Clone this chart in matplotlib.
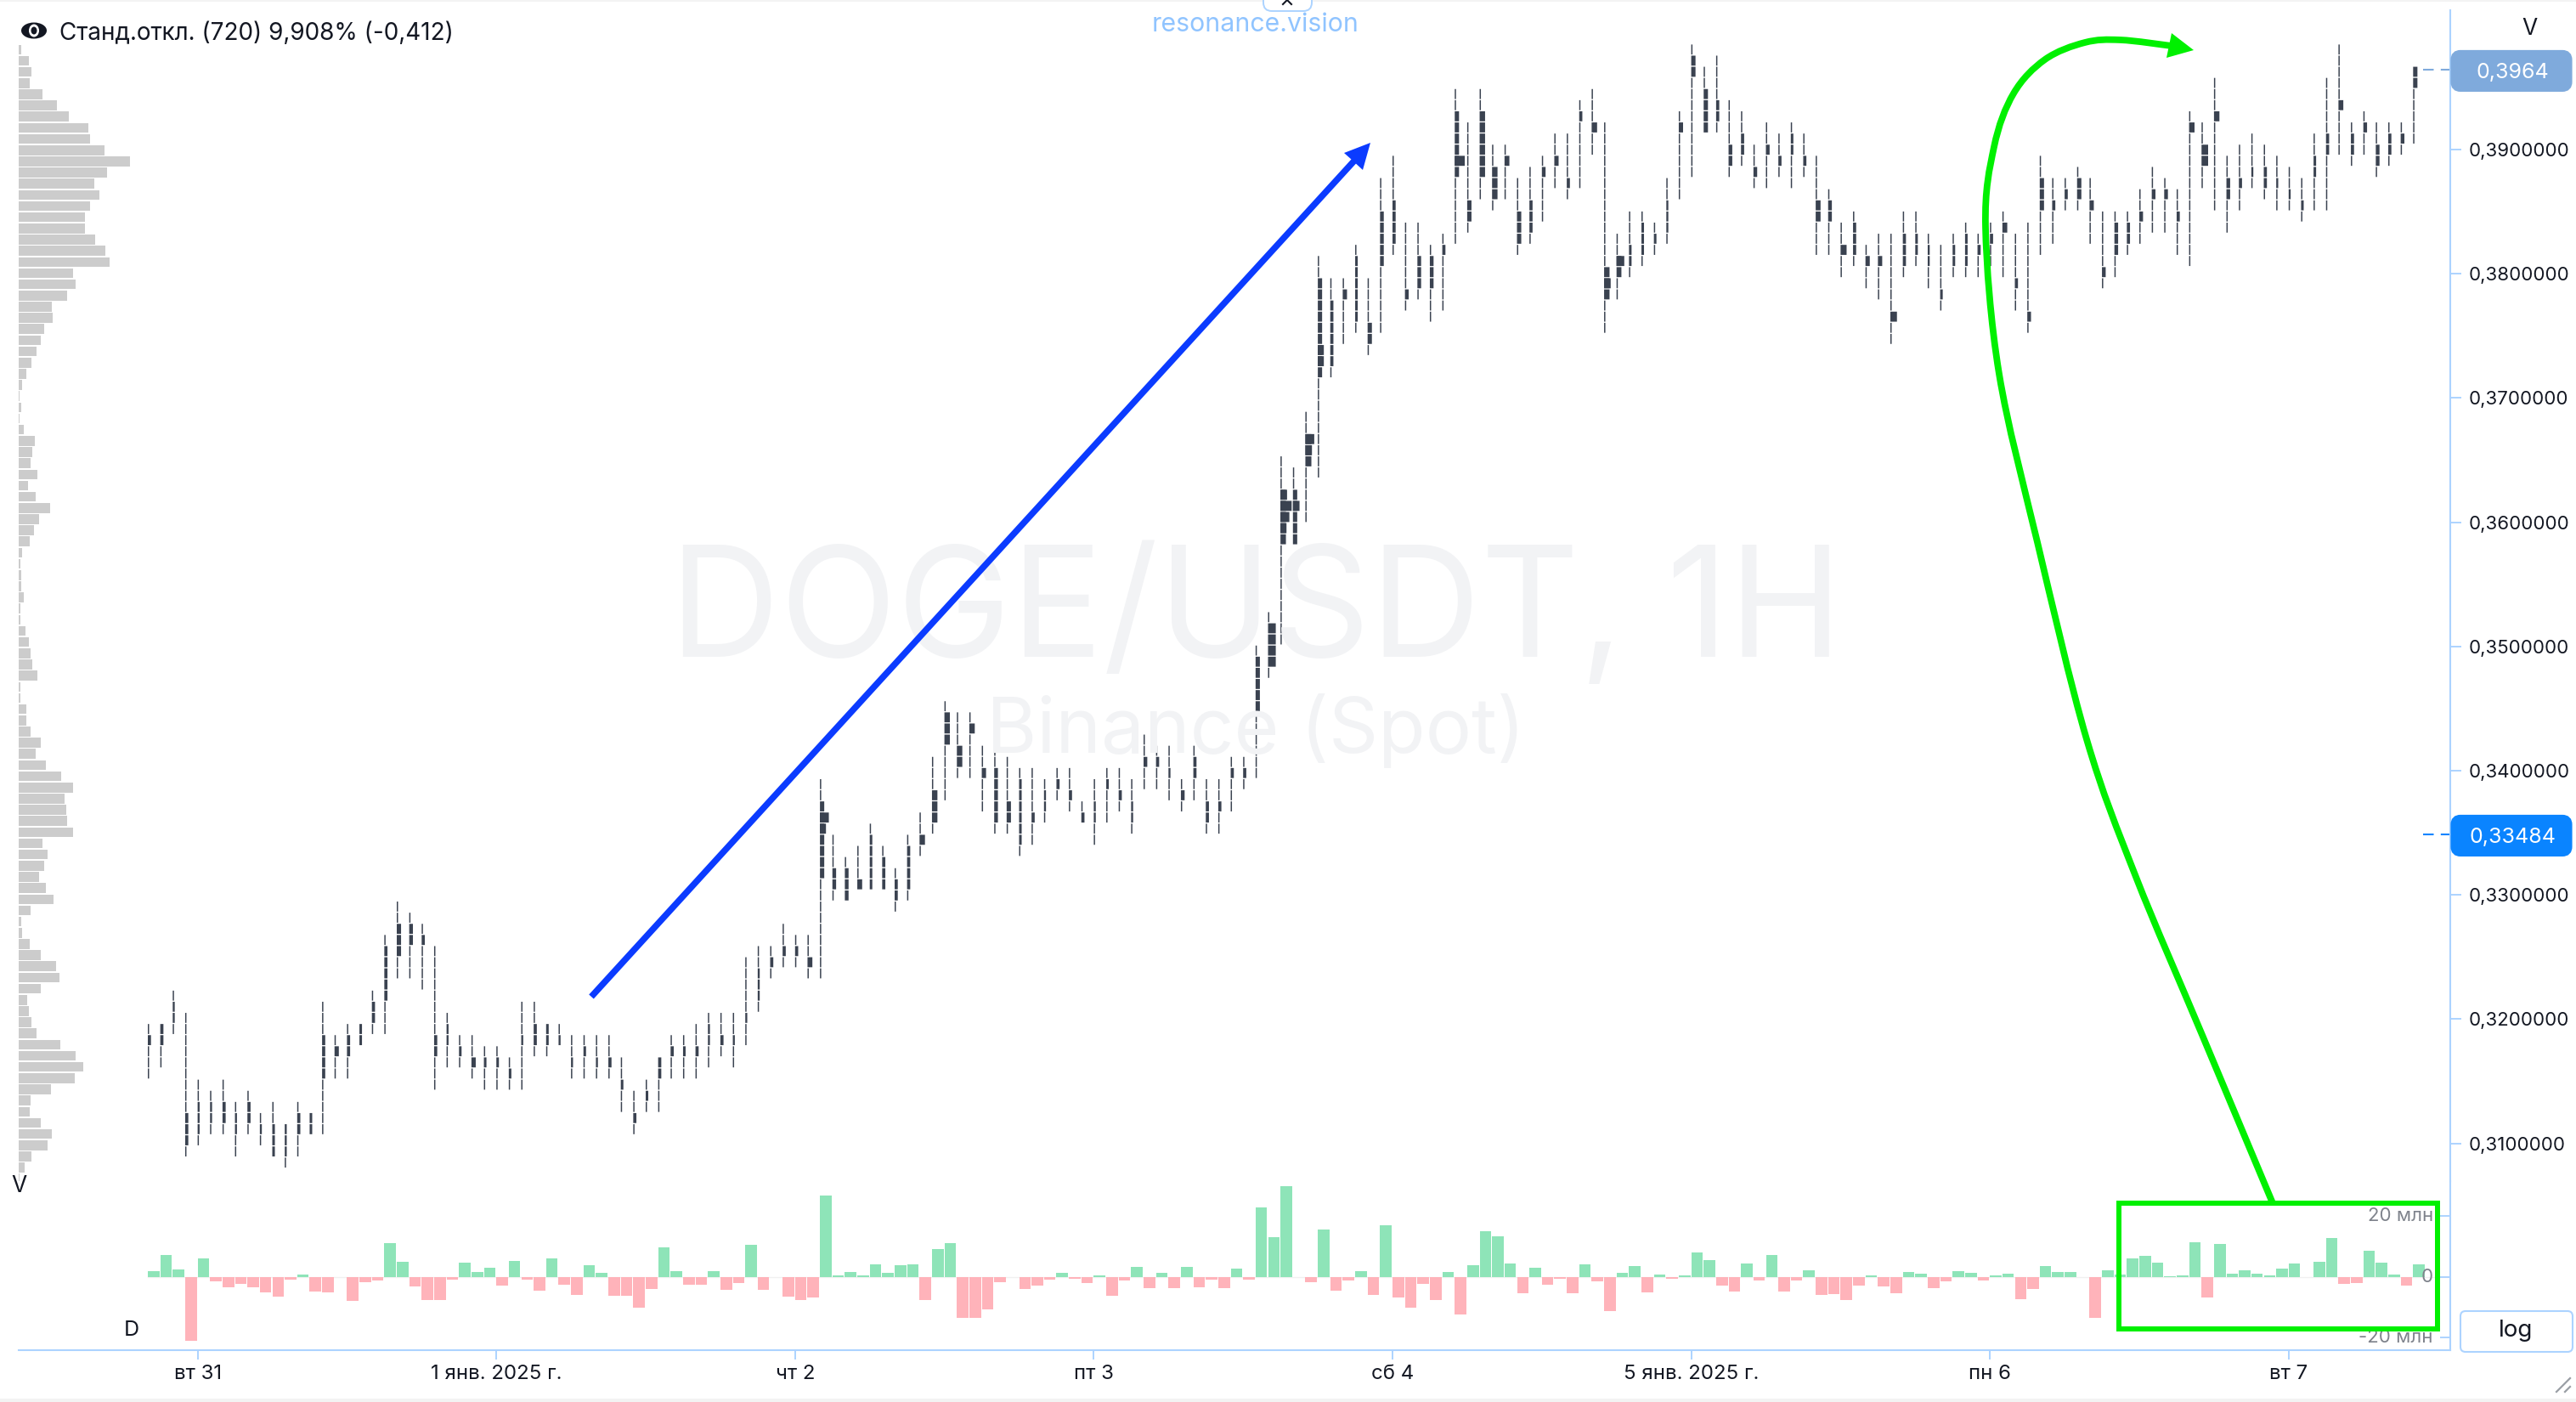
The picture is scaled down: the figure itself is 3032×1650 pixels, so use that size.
import matplotlib
matplotlib.use('Agg')
import matplotlib.pyplot as plt
from matplotlib.patches import FancyBboxPatch, Rectangle, Polygon, Ellipse, PathPatch
from matplotlib.path import Path
from matplotlib.lines import Line2D
from matplotlib.transforms import Affine2D

plt.rcParams['font.family'] = ['Inter', 'DejaVu Sans']

# cluster grid of the chart: bin 0 starts at top_price
top_price = 0.3985
bin_size = 0.000896
profile_bin_size = 0.0009

high_bin = [88,88,85,87,93,94,93,95,94,96,95,97,95,96,86,89,88,88,85,80,
            77,78,79,81,87,89,89,90,90,91,86,86,88,88,89,89,89,89,91,94,
            93,91,89,89,88,87,87,87,82,81,81,79,80,80,66,71,73,72,70,72,
            74,71,69,64,59,60,60,63,62,64,65,65,66,65,65,68,66,65,65,66,
            62,63,63,66,63,66,66,64,64,54,51,37,38,33,19,21,21,18,21,12,
            10,16,16,18,17,4,7,4,9,9,12,11,10,8,8,5,4,7,17,15,
            15,16,12,6,0,2,1,5,6,9,7,8,7,8,10,13,16,15,18,17,
            17,15,15,17,18,17,16,17,16,15,17,16,10,12,12,11,12,15,15,15,
            13,11,12,13,6,7,3,10,9,8,9,10,11,12,8,3,0,7,6,7,7,7,2]
low_bin = [93,92,89,100,99,98,98,100,98,99,100,101,100,98,98,93,93,90,89,89,
           84,84,85,94,92,92,93,94,94,94,94,91,91,90,93,93,93,93,96,98,
           96,96,93,93,93,92,91,92,90,87,84,83,83,84,84,77,77,76,76,76,
           78,77,73,71,68,66,66,69,71,71,73,72,70,68,69,70,72,70,69,71,
           67,67,68,69,68,71,71,69,67,66,57,54,45,43,39,30,27,26,28,26,
           19,24,23,25,24,18,17,14,15,14,19,18,16,13,14,13,10,26,23,21,
           20,19,18,14,12,8,8,12,11,13,13,12,13,12,19,19,21,20,22,23,
           27,21,20,22,24,21,21,21,20,21,24,26,19,18,15,15,18,22,21,19,
           18,17,17,19,20,13,15,17,15,13,14,15,15,16,15,15,10,11,10,12,11,10,9]
body_top = [89,88,86,96,95,95,95,96,95,97,97,97,96,96,89,90,89,88,86,81,
            79,79,80,89,88,90,91,91,91,92,89,88,88,89,91,90,91,91,93,96,
            94,91,90,90,90,88,89,89,87,83,82,81,81,82,68,74,74,75,71,73,
            75,72,71,67,60,63,61,65,65,68,66,69,67,66,67,69,68,66,67,68,
            64,64,65,67,64,68,68,65,65,55,52,40,40,35,21,23,22,19,25,15,
            14,22,19,19,18,6,14,6,11,10,15,14,11,10,12,6,7,20,19,18,
            16,17,14,7,1,4,5,9,8,11,9,10,8,10,14,14,18,16,19,19,
            24,17,17,18,22,18,17,18,17,16,21,24,12,14,13,12,14,20,16,16,
            15,13,13,15,7,9,6,12,12,11,11,12,13,14,10,8,5,8,7,9,8,8,2]
body_bottom = [90,90,88,99,98,97,97,98,97,98,100,100,98,98,93,91,91,90,88,86,
               82,81,81,91,90,91,92,92,92,93,90,90,90,90,92,91,92,92,94,97,
               95,93,91,91,91,90,90,90,88,86,83,82,82,83,75,76,77,76,76,76,
               77,76,72,70,63,65,62,66,70,70,72,70,69,67,68,70,70,67,68,70,
               65,65,66,68,66,70,69,66,66,60,56,45,45,38,30,29,23,25,27,20,
               18,23,22,22,19,12,16,12,14,11,18,17,12,11,13,7,8,23,21,20,
               19,18,17,8,3,8,7,11,10,12,10,11,10,11,16,16,19,19,20,20,
               25,20,19,20,23,20,20,19,18,17,22,25,15,15,14,14,15,21,19,18,
               16,14,14,16,8,11,7,14,13,12,13,13,14,15,12,10,6,10,8,11,10,9,4]
body_vol = [2,2,1,2,1,1,2,1,2,1,1.5,1,2,1.5,2,3,2,1.5,2,2,
            3,2.5,2,2,1,1.5,3,1.5,1.5,1.5,1,2,1.5,1,1,1.5,1,2,1.5,2,
            1.5,2,2,1.5,2,1,2,1,1,1,2,2,2,3.5,3,2.5,2.5,3.5,1.5,2,
            2,2,4,4,4,4,4,3,2.5,3,1.5,2,1,2,2,2,1,1.5,2,1,
            2.5,2,1,2.5,2,2,2,2,2,3,6,4,3,4.5,3,2,3,1.5,3,2.5,
            2,2.5,2.5,2.5,2,3,3,4,4,3.5,3,2,2.5,3,2,2,4,4,3.5,1.5,
            1.5,1.5,1,3,3,3,2,2.5,2,2.5,2.5,2,1.5,2,3.5,2.5,4.5,2,3,3,
            5,2,1.5,1,1.5,1.5,1.5,2,2,3.5,2,2.5,3,2,2,3,3,2.5,2.5,2,
            2.5,2.5,2.5,2,4,5,4,2.5,2,1,2,1,1,1.5,1.5,2,3.5,2,2.5,2.5,2,2.5,3]

# single bins that are much wider than the rest of their candle
wide_candle = [54,54,91,91,91,91,92,93,93,94,94,105,117,118]
wide_bin = [69,70,40,41,42,43,41,35,36,27,28,10,21,19]
wide_vol = [7,4.5,5,9,7,4.5,5,7,5,4.5,4.5,8,5,6]

# volume delta, millions, one bar per candle
delta = [1.9,7.1,2.5,-21.2,6.0,-1.6,-3.5,-2.4,-3.5,-5.2,-6.4,-0.9,0.8,-4.7,-5.2,0,-7.8,-1.7,-1.1,11.2,
         4.9,-3.2,-7.7,-7.7,-0.8,4.8,1.6,2.9,-2.8,5.1,-1.0,-4.5,6.1,-2.6,-6.0,3.9,1.4,-6.1,-6.1,-10.1,
         -4.0,9.7,1.9,-2.6,-2.6,1.9,-4.2,-2.0,10.5,-4.2,0.05,-6.5,-7.5,-6.9,26.7,0.4,1.6,0.5,4.2,1.4,
         3.9,4.2,-7.5,9.2,11.2,-13.4,-13.4,-10.7,-1.9,0,-4.0,-2.8,-0.8,1.2,-0.6,-2.0,0.5,-6.2,-1.2,3.3,
         -3.6,1.2,-3.6,3.3,-3.4,-0.8,-3.6,2.6,-0.8,22.8,13.2,29.8,0.05,-1.9,15.7,-4.5,-1.1,1.9,-5.9,16.9,
         -6.7,-10.1,-2.3,-7.6,1.5,-12.3,3.7,14.9,13.4,4.4,-5.3,2.9,-2.7,-0.6,-5.4,4.0,-1.6,-11.3,1.3,3.5,
         -5.0,0.7,-0.6,0.5,7.9,5.5,-2.8,-4.7,4.3,-1.2,7.2,-4.9,-1.2,2.1,-6.0,-5.7,-7.6,-2.9,0.6,-3.1,
         -5.3,1.5,1.1,-3.6,-1.4,1.9,1.3,-1.1,0.6,0.9,-7.4,-4.1,3.6,1.6,1.5,0.05,-13.6,2.2,0.7,6.2,
         7.0,4.7,0.3,0.5,11.5,-6.7,10.7,0.9,2.2,0.9,0.5,2.7,4.5,0,5.0,12.7,-2.2,-2.0,8.7,4.6,0.7,-2.8,4.1]

# horizontal volume profile on the left, one value per cluster bin
profile = [3,11.7,14.8,13.3,27.5,45,59,81.6,84,101,131,103.6,89,95,83.7,77.6,77.6,90,101.5,107,
           64,67,57,39,40,30,25.5,21,15,9.3,3.7,1.3,3,1.3,5.7,18.7,16,14.3,21.7,10.7,
           20,37,24,17.7,13,4.3,2,3,3,5.7,1.7,2,8.3,12,14,16,21.7,1.7,2,9,
           8.7,14.3,26.3,19.7,32,50.3,64.3,53.7,55.7,57.3,64.3,27.7,34.3,30.3,24,32,41.3,14.3,3,4.3,
           12.7,26.3,44.3,48,25.7,10,11.7,15,21,49.3,66.7,75.7,66.3,38.3,13.7,12.7,26,39,34,15,
           7,0.7]

price_ticks = [0.31,0.32,0.33,0.34,0.35,0.36,0.37,0.38,0.39]
day_ticks = [4,28,52,76,100,124,148,172]
day_labels = ['вт 31','1 янв. 2025 г.','чт 2','пт 3','сб 4','5 янв. 2025 г.','пн 6','вт 7']
last_price = 0.3964
current_price = 0.33484
delta_ticks = [20,0,-20]
delta_labels = ['20 млн','0','-20 млн']

W, H = 3032, 1650
axis_color = '#acd3ff'
text_color = '#131722'
blue = '#0b3bff'
green = '#00f000'

fig = plt.figure(figsize=(W/100, H/100), dpi=100, facecolor='white')
# overlay items are placed in screen pixels, y going down
px = Affine2D().scale(1/W, -1/H).translate(0, 1) + fig.transFigure


def add_axes(x0, y0, x1, y1):
    ax = fig.add_axes([x0/W, 1-y1/H, (x1-x0)/W, (y1-y0)/H])
    ax.patch.set_alpha(0)
    return ax


def price_y(p):
    return 176 + (0.39-p)*14620


def smooth_path(pts):
    # catmull-rom through the points, as bezier pieces
    verts = [pts[0]]
    codes = [Path.MOVETO]
    for i in range(len(pts)-1):
        p0 = pts[max(i-1, 0)]
        p1 = pts[i]
        p2 = pts[i+1]
        p3 = pts[min(i+2, len(pts)-1)]
        verts.append((p1[0]+(p2[0]-p0[0])/6, p1[1]+(p2[1]-p0[1])/6))
        verts.append((p2[0]-(p3[0]-p1[0])/6, p2[1]-(p3[1]-p1[1])/6))
        verts.append(p2)
        codes += [Path.CURVE4]*3
    return Path(verts, codes)


hour_px = 14.65
x_lim = ((22-174)/hour_px, (2884-174)/hour_px)
price_lim = (0.39+(176-1390)/14620, 0.39+(176-12)/14620)

fig.add_artist(Rectangle((0, 0), W, 2, transform=px, color='#f3f3f3', lw=0))
fig.add_artist(Rectangle((0, 1646), W, 4, transform=px, color='#f3f3f3', lw=0))

# watermark, under everything else
fig.text(1478/W, 1-725/H, 'DOGE/USDT, 1H', fontsize=129.6, color='#f2f3f5', ha='center', va='center', zorder=0)
fig.text(1478/W, 1-860/H, 'Binance (Spot)', fontsize=65.4, color='#f2f3f5', ha='center', va='center', zorder=0)

# profile
ax_prof = add_axes(22, 12, 322, 1390)
centers = [top_price - profile_bin_size*(n+0.5) for n in range(len(profile))]
ax_prof.barh(centers, profile, height=profile_bin_size*0.88, color='#cccccc', lw=0)
ax_prof.set_xlim(0, 300)
ax_prof.set_ylim(*price_lim)
ax_prof.axis('off')

# price panel: every candle is a column of cluster bins
ax = add_axes(22, 12, 2884, 1390)
xs, ys, ws = [], [], []
for i in range(len(high_bin)):
    for n in range(high_bin[i], low_bin[i]):
        w = 1.5
        if body_top[i] <= n < body_bottom[i]:
            w = 1 + 1.35*body_vol[i]
        xs.append(i)
        ys.append(top_price - bin_size*(n+1) + bin_size*0.05)
        ws.append(w/hour_px)
for c, n, v in zip(wide_candle, wide_bin, wide_vol):
    xs.append(c)
    ys.append(top_price - bin_size*(n+1) + bin_size*0.05)
    ws.append((1 + 1.35*v)/hour_px)
bars = ax.bar(xs, bin_size*0.9, width=ws, bottom=ys, align='edge', color='#3a4250', lw=0)
for b in bars:
    b.set_snap(False)

for p, c in [(last_price, '#7faadc'), (current_price, '#0a84ff')]:
    ax.plot([182.8, x_lim[1]], [p, p], color=c, lw=1.5, dashes=(6, 4))

ax.set_xlim(*x_lim)
ax.set_ylim(*price_lim)
ax.set_xticks([])
ax.yaxis.tick_right()
ax.set_yticks(price_ticks)
labels = ['{:.7f}'.format(p).replace('.', ',') for p in price_ticks]
ax.set_yticklabels(labels, fontsize=16, color=text_color)
ax.tick_params(axis='y', length=9.4, width=1.4, color=axis_color, pad=6)
for s in ['top', 'left', 'bottom']:
    ax.spines[s].set_visible(False)
ax.spines['right'].set_color(axis_color)
ax.spines['right'].set_linewidth(1.5)

# delta panel
ax2 = add_axes(22, 1390, 2884, 1589)
bar_colors = ['#8ee4b8' if d >= 0 else '#ffb3ba' for d in delta]
ax2.bar(range(len(delta)), delta, width=0.93, align='edge', color=bar_colors, lw=0)
ax2.axhline(0, xmin=(174-22)/(2884-22), color='#f0f0f0', lw=1, zorder=0)
ax2.set_xlim(*x_lim)
ax2.set_ylim((1502.7-1589)/3.575, (1502.7-1390)/3.575)
ax2.yaxis.tick_right()
ax2.set_yticks(delta_ticks)
ax2.set_yticklabels([])
ax2.tick_params(axis='y', direction='in', length=8.6, width=1.4, color=axis_color)
ax2.set_xticks(day_ticks)
ax2.set_xticklabels(day_labels, fontsize=17.3, color=text_color)
ax2.tick_params(axis='x', length=8, width=1.4, color=axis_color, pad=4)
for s in ['top', 'left']:
    ax2.spines[s].set_visible(False)
for s in ['right', 'bottom']:
    ax2.spines[s].set_color(axis_color)
    ax2.spines[s].set_linewidth(1.5)
for v, t in zip(delta_ticks, delta_labels):
    ax2.annotate(t, xy=(1, v), xycoords=ax2.get_yaxis_transform(), xytext=(-20, 0),
                 textcoords='offset pixels', ha='right', va='center', fontsize=16, color='#7f838c')

# price flags
for p, t, c in [(last_price, '0,3964', '#7faadc'), (current_price, '0,33484', '#0a84ff')]:
    y = price_y(p) + 1
    fig.add_artist(FancyBboxPatch((2890, y-19), 132, 38, boxstyle='round,pad=0,rounding_size=6',
                                  transform=px, fc=c, ec=c, lw=8))
    fig.text(2957/W, 1-y/H, t, fontsize=18, color='white', ha='center', va='center_baseline')

# head of the panel
fig.add_artist(Ellipse((40, 36), 30, 19, transform=px, fc='#131722', lw=0))
fig.add_artist(Ellipse((40, 36), 12, 15, transform=px, fc='white', lw=0))
fig.add_artist(Ellipse((40, 36), 7, 9, transform=px, fc='#131722', lw=0))
fig.text(70/W, 1-36/H, 'Станд.откл. (720) 9,908% (-0,412)', fontsize=20.1, color=text_color, va='center_baseline')
fig.text(1478/W, 1-26/H, 'resonance.vision', fontsize=21.8, color='#90c4ff', ha='center', va='center_baseline')
fig.add_artist(FancyBboxPatch((1487, -20), 57, 33, boxstyle='round,pad=0,rounding_size=10',
                              transform=px, fc='white', ec=axis_color, lw=1.4))
fig.add_artist(Line2D([1510, 1515, 1520], [5, 0, 5], transform=px, color=text_color, lw=1.5))

fig.text(2977/W, 1-34/H, 'V', fontsize=19, color=text_color, ha='center', va='center')
fig.text(22/W, 1-1396/H, 'V', fontsize=19, color=text_color, ha='center', va='center')
fig.text(155/W, 1-1565/H, 'D', fontsize=18, color=text_color, ha='center', va='center')

# log button
fig.add_artist(FancyBboxPatch((2896, 1543), 132, 48, boxstyle='round,pad=0,rounding_size=6',
                              transform=px, fc='white', ec=axis_color, lw=1.5))
fig.text(2961/W, 1-1566/H, 'log', fontsize=20, color=text_color, ha='center', va='center')
fig.add_artist(Line2D([3009, 3025], [1638, 1622], transform=px, color='#9a9fa6', lw=1.6))
fig.add_artist(Line2D([3019, 3025], [1638, 1632], transform=px, color='#9a9fa6', lw=1.6))

# hand drawn arrows and frame
fig.add_artist(Line2D([696, 1596], [1173, 187], transform=px, color=blue, lw=5.4, solid_capstyle='butt', zorder=8))
fig.add_artist(Polygon([[1613, 168], [1582, 180], [1591, 188], [1604, 200]], transform=px, fc=blue, lw=0, zorder=8))

curve_pts = [(2675,1416),(2592,1218),(2514,1032),(2456,870),(2398,638),(2353,440),(2337,267),(2347,173),
             (2370,110),(2407,70),(2454,50),(2496,47),(2556,54)]
fig.add_artist(PathPatch(smooth_path(curve_pts), transform=px, fc='none', ec=green, lw=5.6, zorder=8))
fig.add_artist(Polygon([[2582, 59], [2556, 39], [2550, 68]], transform=px, fc=green, lw=0, zorder=8))
fig.add_artist(Rectangle((2493.5, 1416), 375.5, 148, transform=px, fc='none', ec=green, lw=4.3, zorder=8))

fig.savefig('out.png', dpi=100)
